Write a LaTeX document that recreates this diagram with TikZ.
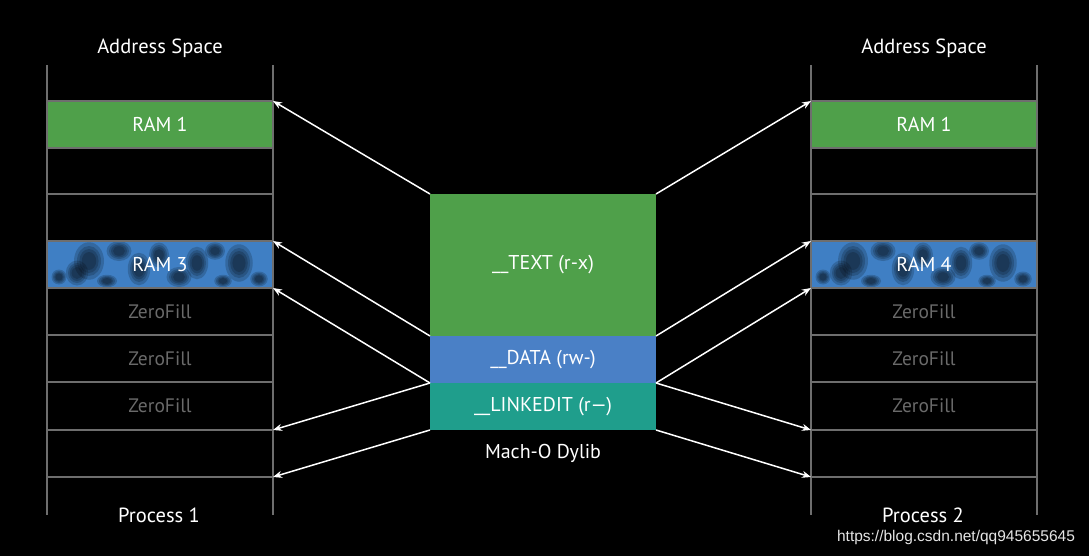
\documentclass[tikz,border=0pt]{standalone}
\usepackage{fontspec}
\setmainfont{PT Sans}
\newfontfamily\wmfont{Liberation Sans}
\usetikzlibrary{arrows.meta}
\definecolor{gridc}{HTML}{6E6E6E}
\definecolor{ramgreen}{HTML}{4FA04A}
\definecolor{datablue}{HTML}{4A80C6}
\definecolor{linkteal}{HTML}{1F9E8C}
\definecolor{texblue}{HTML}{3F7FC4}
\definecolor{zerogray}{HTML}{6A6A6A}
\tikzset{
  gridline/.style={draw=gridc, line width=1.6pt},
  seg/.style={minimum width=226pt, minimum height=47pt, inner sep=0pt, outer sep=0pt, anchor=north west, text=white, font=\fontsize{20}{20}\selectfont},
  zlabel/.style={text=zerogray, font=\fontsize{19.5}{19.5}\selectfont},
  title/.style={text=white, font=\fontsize{20.5}{20.5}\selectfont},
  arr/.style={draw=white, line width=1.5pt, -{Stealth[length=9pt,width=7pt]}},
  blob/.style={fill=black, opacity=0.18},
}
\newcommand{\softblob}[4]{%
  \fill[blob] (#1,#2) ellipse ({#3*1.25} and {#4*1.25});
  \fill[blob] (#1,#2) ellipse ({#3} and {#4});
  \fill[blob] (#1,#2) ellipse ({#3*0.8} and {#4*0.8});
  \fill[blob] (#1,#2) ellipse ({#3*0.6} and {#4*0.6});}
\newcommand{\texband}[2]{%
  \begin{scope}[shift={(#1,#2)}]
    \clip (0,0) rectangle (226,47);
    \fill[texblue] (0,0) rectangle (226,47);
    \softblob{42}{20}{12}{15}
    \softblob{30}{32}{9}{10}
    \softblob{12}{36}{6}{6}
    \softblob{72}{10}{10}{8}
    \softblob{92}{28}{9}{13}
    \softblob{112}{14}{8}{10}
    \softblob{132}{36}{10}{8}
    \softblob{150}{22}{9}{13}
    \softblob{168}{10}{8}{7}
    \softblob{192}{22}{11}{15}
    \softblob{212}{38}{7}{6}
    \softblob{60}{40}{8}{5}
    \softblob{176}{40}{7}{5}
  \end{scope}}
\begin{document}
\begin{tikzpicture}[x=1pt,y=-1pt]
\fill[black] (0,0) rectangle (1089,556);
\useasboundingbox (0,0) rectangle (1089,556);

% ---------- left column
\texband{47}{241}
\node[seg, fill=ramgreen] (L1) at (47,101) {RAM 1};
\node[seg] (L2) at (47,148) {};
\node[seg] (L3) at (47,194) {};
\node[seg] (L4) at (47,241) {RAM 3};
\node[seg] (L5) at (47,288) {};
\node[seg] (L6) at (47,335) {};
\node[seg] (L7) at (47,382) {};
\node[seg] (L8) at (47,430) {};
\node[zlabel] at (L5.center) {ZeroFill};
\node[zlabel] at (L6.center) {ZeroFill};
\node[zlabel] at (L7.center) {ZeroFill};
\foreach \y in {101,148,194,241,288,335,382,430,477}
  \draw[gridline] (47,\y) -- (273,\y);
\draw[gridline] (47,65) -- (47,515);
\draw[gridline] (273,65) -- (273,515);
\node[title] (LA) at (160,48) {Address Space};
\node[title] (LP) at (159,515) {Process 1};

% ---------- right column
\texband{811}{241}
\node[seg, fill=ramgreen] (R1) at (811,101) {RAM 1};
\node[seg] (R2) at (811,148) {};
\node[seg] (R3) at (811,194) {};
\node[seg] (R4) at (811,241) {RAM 4};
\node[seg] (R5) at (811,288) {};
\node[seg] (R6) at (811,335) {};
\node[seg] (R7) at (811,382) {};
\node[seg] (R8) at (811,430) {};
\node[zlabel] at (R5.center) {ZeroFill};
\node[zlabel] at (R6.center) {ZeroFill};
\node[zlabel] at (R7.center) {ZeroFill};
\foreach \y in {101,148,194,241,288,335,382,430,477}
  \draw[gridline] (811,\y) -- (1037,\y);
\draw[gridline] (811,65) -- (811,515);
\draw[gridline] (1037,65) -- (1037,515);
\node[title] (RA) at (924,48) {Address Space};
\node[title] (RP) at (923,515) {Process 2};

% ---------- Mach-O
\node[seg, fill=ramgreen, minimum height=142pt] (TXT) at (430,194) {\_\_TEXT (r-x)};
\node[seg, fill=datablue] (DAT) at (430,336) {\_\_DATA (rw-)};
\node[seg, fill=linkteal] (LNK) at (430,383) {\_\_LINKEDIT (r—)};
\node[title, font=\fontsize{20}{20}\selectfont] (MO) at (543,453) {Mach-O Dylib};

% ---------- arrows
\draw[arr] (TXT.north west) -- (L1.north east);
\draw[arr] (TXT.south west) -- (L4.north east);
\draw[arr] (DAT.south west) -- (L5.north east);
\draw[arr] (DAT.south west) -- (L8.north east);
\draw[arr] (LNK.south west) -- (L8.south east);
\draw[arr] (TXT.north east) -- (R1.north west);
\draw[arr] (TXT.south east) -- (R4.north west);
\draw[arr] (DAT.south east) -- (R5.north west);
\draw[arr] (DAT.south east) -- (R8.north west);
\draw[arr] (LNK.south east) -- (R8.south west);

\node[text=white!90!black, font=\wmfont\fontsize{15.5}{15.5}\selectfont] (WM) at (956,537) {https://blog.csdn.net/qq945655645};
\end{tikzpicture}
\end{document}
